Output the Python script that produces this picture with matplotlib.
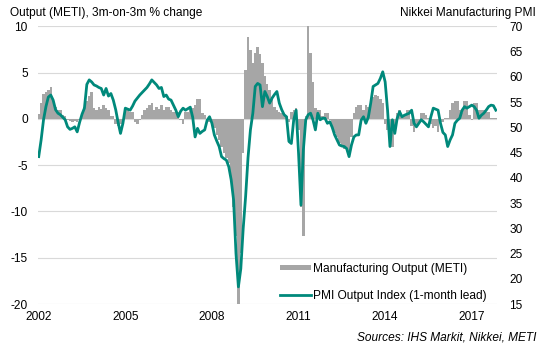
import matplotlib
matplotlib.use("Agg")
import matplotlib.pyplot as plt
from matplotlib.lines import Line2D
from matplotlib.patches import Patch
import numpy as np

plt.rcParams["font.family"] = ["Liberation Sans", "DejaVu Sans"]
plt.rcParams["axes.unicode_minus"] = False

# monthly, Jan 2002 .. Nov 2017
output_meti = [
    0.5, 1.7, 2.7, 2.9, 3.1, 3.5, 2.0, 1.3, 1.0, 1.0, 0.4, 0.3,
    -0.1, -0.2, -0.3, -0.2, -0.3, -0.1, 0.6, 1.3, 1.9, 2.5, 2.9, 1.2,
    1.0, 1.3, 1.1, 1.5, 1.2, 1.0, 0.3, 0.3, -0.5, -0.8, -0.6, -0.3,
    1.0, 1.2, 0.8, 0.8, -0.3, -0.5, -0.1, 0.4, 1.0, 1.2, 1.5, 1.7,
    1.0, 1.3, 1.1, 1.5, 1.0, 1.3, 1.3, 1.0, 0.8, 0.8, 0.8, -0.1,
    -0.5, 0.8, 0.8, 1.2, 1.2, 1.5, 2.1, 2.1, 0.6, 0.4, -0.1, -0.3,
    -0.8, -1.0, -1.7, -2.3, -3.0, -3.7, -4.2, -4.8, -6.5, -9.5, -12.7, -20.0,
    -14.5, -3.7, 5.3, 8.9, 7.4, 6.0, 7.1, 7.8, 7.0, 6.0, 4.6, 3.8,
    3.1, 2.1, 1.3, 1.0, 0.8, 0.6, 0.3, 0.3, -0.3, 0.8, 1.0, 1.2,
    -1.2, -9.5, -12.7, 0.3, 10.0, 7.1, 4.0, 1.2, 1.0, 1.0, 0.3, 0.6,
    0.6, -0.1, -0.8, -1.5, -1.9, -2.6, -2.9, -3.2, -3.3, -3.7, -1.9, 0.6,
    1.3, 1.5, 1.5, 1.0, 1.5, 1.3, 2.0, 2.4, 2.6, 2.5, 2.2, 1.7,
    -0.5, -1.2, -2.3, -3.0, -0.8, 0.6, 1.0, 0.4, 0.4, 1.0, 1.0, -0.8,
    -1.4, -0.5, -0.5, 0.6, 0.6, 0.4, 0.1, -0.5, -1.0, -0.8, -1.4, -0.3,
    -0.3, 0.1, 0.1, 1.0, 1.7, 1.9, 1.9, 1.0, 0.6, 1.9, 1.9, 0.4,
    -0.1, 1.7, 1.7, 1.0, 1.0, 1.0, 0.8, 0.8, 0.1, 0.1, 0.1,
]

pmi_output = [
    44.2, 47.5, 51.5, 54.1, 56.0, 56.4, 55.4, 53.5, 52.8, 52.5, 52.0, 51.5,
    50.1, 49.6, 49.8, 50.1, 49.1, 51.0, 52.6, 53.8, 58.5, 59.4, 59.0, 58.4,
    58.2, 57.9, 57.7, 56.4, 57.7, 56.2, 56.7, 55.4, 53.5, 51.0, 48.8, 50.8,
    53.8, 53.6, 53.4, 54.2, 55.2, 55.8, 56.4, 56.9, 57.4, 57.9, 58.6, 59.4,
    58.9, 58.4, 57.7, 57.9, 56.1, 56.4, 55.6, 55.4, 54.4, 53.4, 52.1, 53.2,
    53.8, 53.4, 53.7, 54.0, 52.0, 48.1, 49.8, 48.8, 49.2, 49.5, 51.4, 52.1,
    50.8, 48.5, 47.3, 46.2, 44.2, 43.8, 43.5, 42.2, 39.6, 35.6, 25.0, 18.4,
    22.0, 30.0, 36.3, 44.0, 49.5, 52.8, 58.1, 58.7, 58.4, 54.1, 57.1, 56.1,
    54.8, 55.8, 56.5, 57.1, 54.8, 53.5, 52.5, 52.1, 47.2, 46.8, 51.5, 53.4,
    44.9, 34.6, 45.5, 51.5, 52.5, 52.8, 51.5, 49.5, 52.8, 51.5, 51.8, 51.8,
    50.8, 51.1, 50.0, 48.5, 47.5, 46.5, 46.3, 46.2, 45.8, 44.2, 46.5, 48.1,
    48.5, 48.5, 51.4, 52.1, 50.8, 52.0, 54.8, 58.1, 58.4, 58.7, 59.7, 61.0,
    59.0, 53.4, 46.2, 51.5, 48.8, 51.8, 53.1, 52.1, 52.4, 52.6, 52.8, 53.4,
    50.8, 50.1, 50.8, 51.5, 51.1, 50.6, 50.1, 52.1, 53.8, 53.6, 53.4, 50.8,
    49.0, 48.5, 46.2, 47.5, 48.5, 50.8, 51.4, 51.8, 53.4, 54.1, 53.8, 54.1,
    54.4, 54.1, 53.4, 51.8, 52.4, 52.8, 53.4, 54.1, 54.4, 54.3, 53.4,
]

year_labels = ["2002", "2005", "2008", "2011", "2014", "2017"]
left_ticks = [-20, -15, -10, -5, 0, 5, 10]
right_ticks = [15, 20, 25, 30, 35, 40, 45, 50, 55, 60, 65, 70]

teal = "#00897b"
grey = "#a6a6a6"
fs = 8.6

fig = plt.figure(figsize=(5.46, 3.51), dpi=100)
ax = fig.add_axes([0.0687, 0.1339, 0.8416, 0.7909])
ax2 = ax.twinx()

x = np.arange(len(output_meti))
ax.bar(x, output_meti, width=1.0, color=grey, linewidth=0, zorder=2)
ax.set_ylim(-20, 10)
ax.set_yticks(left_ticks)
ax.set_xlim(-0.5, len(output_meti) - 0.5)
ax.set_xticks(np.arange(0, 12 * 3 * len(year_labels), 36))
ax.set_xticklabels(year_labels)
ax.grid(axis="y", color="#d9d9d9", linewidth=0.8, zorder=0)
ax.set_axisbelow(True)

ax2.plot(np.arange(len(pmi_output)), pmi_output, color=teal, linewidth=2.0,
         solid_joinstyle="round", zorder=3)
ax2.set_ylim(15, 70)
ax2.set_yticks(right_ticks)

for a in (ax, ax2):
    for s in a.spines.values():
        s.set_visible(False)
    a.tick_params(length=0, labelsize=fs, colors="#000000")
ax.tick_params(axis="y", pad=7)
ax.tick_params(axis="x", pad=5)
ax2.tick_params(axis="y", pad=9)

handles = [Patch(facecolor=grey, edgecolor="none"),
           Line2D([0], [0], color=teal, linewidth=2.0)]
labels = ["Manufacturing Output (METI)", "PMI Output Index (1-month lead)"]
ax2.legend(handles, labels, loc="lower right", bbox_to_anchor=(1.0, -0.03),
           frameon=False, fontsize=fs, handlelength=2.6, handleheight=0.3,
           handletextpad=0.15, labelspacing=1.25)

fig.text(0.018, 0.955, "Output (METI), 3m-on-3m % change", fontsize=fs,
         ha="left", va="baseline")
fig.text(0.982, 0.955, "Nikkei Manufacturing PMI", fontsize=fs,
         ha="right", va="baseline")
fig.text(0.982, 0.03, "Sources: IHS Markit, Nikkei, METI", fontsize=fs,
         ha="right", va="baseline", style="italic")

fig.savefig("out.png", dpi=100)
